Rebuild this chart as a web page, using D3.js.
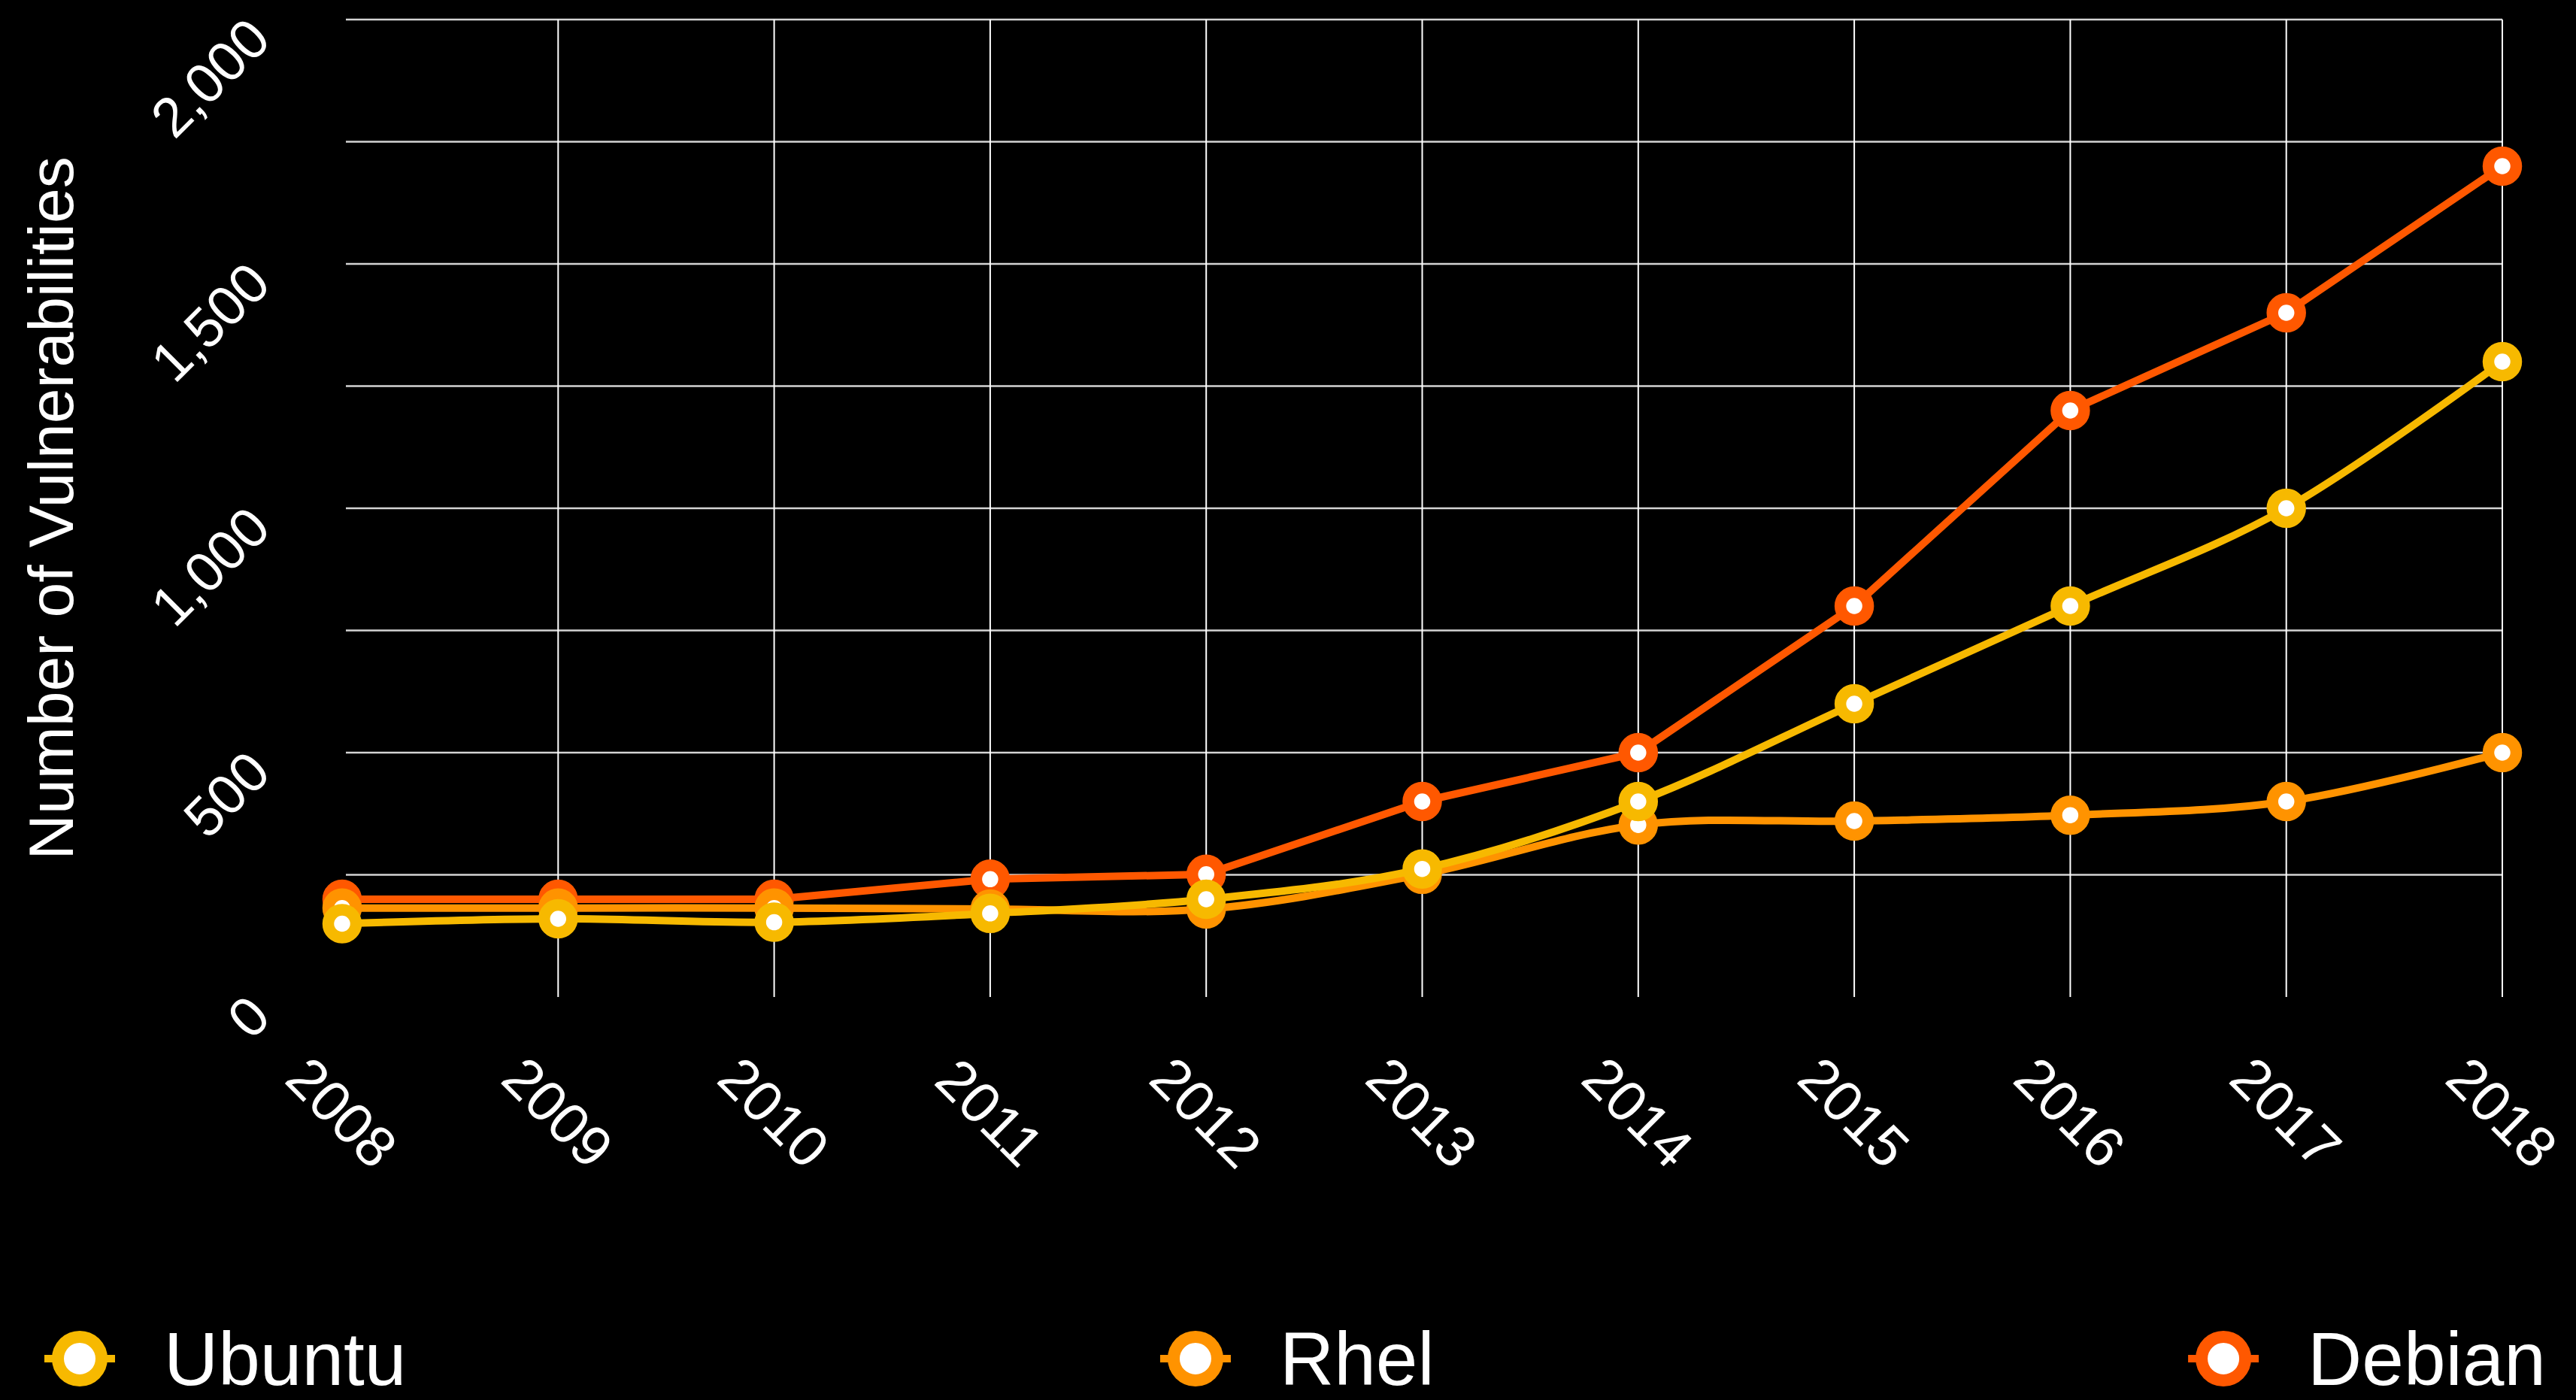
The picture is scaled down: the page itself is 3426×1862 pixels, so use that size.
<!DOCTYPE html>
<html lang="en">
<head>
    <meta charset="UTF-8">
    <title>Number of Vulnerabilities</title>
    <script src="https://d3js.org/d3.v7.min.js"></script>
    <style>
        html, body { margin: 0; padding: 0; background: #000; }
        svg { display: block; font-family: "Liberation Sans", Arial, Helvetica, sans-serif; }
    </style>
</head>
<body>
<div id="chart"></div>
<script>
const width = 3426;
const height = 1862;

// data
const years = [2008, 2009, 2010, 2011, 2012, 2013, 2014, 2015, 2016, 2017, 2018];
const ubuntu = [150, 160, 153, 171, 200, 262, 400, 600, 800, 1000, 1300];
const rhel = [182, 182, 182, 180, 180, 251, 352, 360, 372, 400, 500];
const debian = [200, 200, 200, 241, 251, 400, 500, 800, 1200, 1400, 1700];
const seriesNames = ["Ubuntu", "Rhel", "Debian"];
const seriesColors = ["#f7b900", "#ff9300", "#ff5800"];
const seriesSmooth = [true, true, false]; // Debian is drawn with straight segments
const yTicks = [0, 500, 1000, 1500, 2000];
const yGrid = [250, 500, 750, 1000, 1250, 1500, 1750, 2000];

const series = [
    { name: seriesNames[0], color: seriesColors[0], smooth: seriesSmooth[0], values: ubuntu },
    { name: seriesNames[1], color: seriesColors[1], smooth: seriesSmooth[1], values: rhel },
    { name: seriesNames[2], color: seriesColors[2], smooth: seriesSmooth[2], values: debian }
];

const x = d3.scalePoint().domain(years).range([455, 3328]);
const y = d3.scaleLinear().domain([0, 2000]).range([1326, 26]);

const svg = d3.select("#chart").append("svg")
    .attr("width", width)
    .attr("height", height)
    .style("background", "#000");

// grid
svg.append("g").selectAll("line")
    .data(yGrid)
    .join("line")
    .attr("x1", x(years[0]) + 5)
    .attr("x2", x(years[years.length - 1]))
    .attr("y1", d => y(d))
    .attr("y2", d => y(d))
    .attr("stroke", "#d4d4d4")
    .attr("stroke-width", 2.5);

svg.append("g").selectAll("line")
    .data(years.slice(1))
    .join("line")
    .attr("x1", d => x(d))
    .attr("x2", d => x(d))
    .attr("y1", y(2000))
    .attr("y2", y(0))
    .attr("stroke", "#fff")
    .attr("stroke-width", 2);

// y tick labels
svg.append("g").selectAll("text")
    .data(yTicks)
    .join("text")
    .attr("transform", d => `translate(363,${y(d) + 30}) rotate(-45)`)
    .attr("text-anchor", "end")
    .attr("fill", "#fff")
    .attr("font-size", 74)
    .text(d3.format(","));

// x tick labels
svg.append("g").selectAll("text")
    .data(years)
    .join("text")
    .attr("transform", d => `translate(${x(d)},1479) rotate(45)`)
    .attr("y", 27)
    .attr("text-anchor", "middle")
    .attr("fill", "#fff")
    .attr("font-size", 76)
    .text(d => d);

// y axis title
svg.append("text")
    .attr("transform", "translate(97,676) rotate(-90)")
    .attr("text-anchor", "middle")
    .attr("fill", "#fff")
    .attr("font-size", 84)
    .text("Number of Vulnerabilities");

// lines + markers, Debian drawn first, Ubuntu on top
series.slice().reverse().forEach(s => {
    const line = d3.line()
        .x((d, i) => x(years[i]))
        .y(d => y(d))
        .curve(s.smooth ? d3.curveCatmullRom.alpha(0) : d3.curveLinear);
    const g = svg.append("g");
    g.append("path")
        .attr("d", line(s.values))
        .attr("fill", "none")
        .attr("stroke", s.color)
        .attr("stroke-width", 10)
        .attr("stroke-linejoin", "round");
    g.selectAll("circle")
        .data(s.values)
        .join("circle")
        .attr("cx", (d, i) => x(years[i]))
        .attr("cy", d => y(d))
        .attr("r", 18.5)
        .attr("fill", "#fff")
        .attr("stroke", s.color)
        .attr("stroke-width", 15.5);
});

// legend, spread across the full width
const legendY = 1807;
const legend = svg.append("g");
const items = legend.selectAll("g")
    .data(series)
    .join("g");

items.append("line")
    .attr("x1", -47).attr("x2", 47)
    .attr("y1", 0).attr("y2", 0)
    .attr("stroke", d => d.color)
    .attr("stroke-width", 10);
items.append("circle")
    .attr("r", 29)
    .attr("fill", "#fff")
    .attr("stroke", d => d.color)
    .attr("stroke-width", 16);
items.append("text")
    .attr("x", 112)
    .attr("y", 35)
    .attr("fill", "#fff")
    .attr("font-size", 100)
    .text(d => d.name);

const left = 59, right = 3386;
const widths = [];
items.each(function () {
    widths.push(47 + 112 + this.querySelector("text").getComputedTextLength());
});
const gap = (right - left - d3.sum(widths)) / (widths.length - 1);
let pos = left;
items.attr("transform", (d, i) => {
    const t = `translate(${pos + 47},${legendY})`;
    pos += widths[i] + gap;
    return t;
});
</script>
</body>
</html>
